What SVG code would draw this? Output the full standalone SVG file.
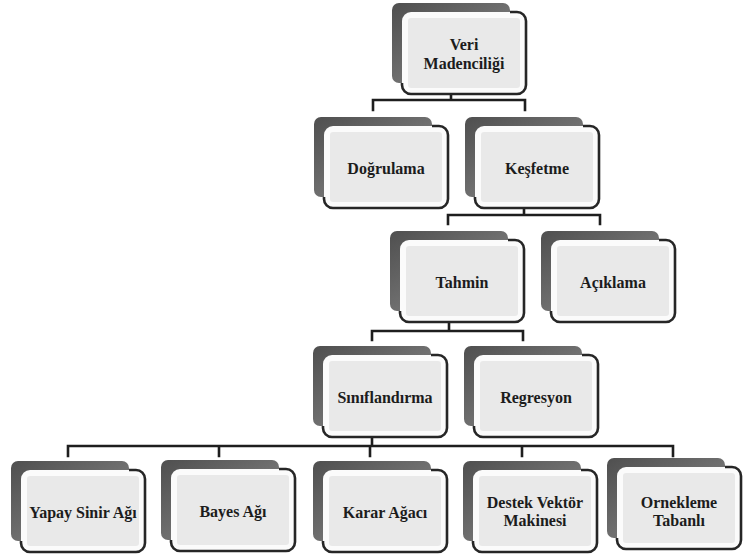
<svg xmlns="http://www.w3.org/2000/svg" xmlns:xlink="http://www.w3.org/1999/xlink" width="743" height="558" viewBox="0 0 743 558">
  <style>
    .lbl { font-family: "Liberation Serif", "Times New Roman", serif; font-weight: bold; font-size: 16px; fill: #1c1c1c; text-anchor: middle; dominant-baseline: central; }
    .wire { fill: none; stroke: #1e1e1e; stroke-width: 2.6; stroke-linecap: square; }
  </style>
  <defs>
    <linearGradient id="backFill" x1="0" y1="0" x2="1" y2="1">
      <stop offset="0" stop-color="#4f4f4f"/>
      <stop offset="0.5" stop-color="#6e6e6e"/>
      <stop offset="1" stop-color="#8e8e8e"/>
    </linearGradient>
    <!-- one box: dark offset card behind, light rounded card in front -->
    <g id="box">
      <rect x="0" y="0" width="118" height="80" rx="7" fill="url(#backFill)"/>
      <rect x="10" y="9" width="124" height="82" rx="9" fill="#fbfbfb"/>
      <rect x="16" y="15" width="112" height="70" rx="3" fill="#e9e9e9"/>
      <path d="M118,9 H125 A9,9 0 0 1 134,18 V82 A9,9 0 0 1 125,91 H19 A9,9 0 0 1 10,82 V80" fill="none" stroke="#262626" stroke-width="2.6"/>
    </g>
  </defs>
  <rect width="743" height="558" fill="#ffffff"/>

  <g id="connectors">
    <path class="wire" d="M451,93 V100 M373,100 H525 M373,100 V110 M525,100 V110"/>
    <path class="wire" d="M524,205 V215 M448,215 H600 M448,215 V224 M600,215 V224"/>
    <path class="wire" d="M449,322 V331 M372,331 H523 M372,331 V340 M523,331 V340"/>
    <path class="wire" d="M372,438 V446 M68,446 H673 M68,446 V456 M219,446 V456 M370,446 V456 M522,446 V456 M673,446 V456"/>
  </g>

  <g id="veri-madenciligi" transform="translate(392,3)">
    <use xlink:href="#box"/>
    <text class="lbl" x="72" y="41">Veri</text>
    <text class="lbl" x="72" y="60">Madenciliği</text>
  </g>

  <g id="dogrulama" transform="translate(314,117)">
    <use xlink:href="#box"/>
    <text class="lbl" x="72" y="51">Doğrulama</text>
  </g>
  <g id="kesfetme" transform="translate(465,117)">
    <use xlink:href="#box"/>
    <text class="lbl" x="72" y="51">Keşfetme</text>
  </g>

  <g id="tahmin" transform="translate(390,231)">
    <use xlink:href="#box"/>
    <text class="lbl" x="72" y="51">Tahmin</text>
  </g>
  <g id="aciklama" transform="translate(541,231)">
    <use xlink:href="#box"/>
    <text class="lbl" x="72" y="51">Açıklama</text>
  </g>

  <g id="siniflandirma" transform="translate(313,346)">
    <use xlink:href="#box"/>
    <text class="lbl" x="72" y="51">Sınıflandırma</text>
  </g>
  <g id="regresyon" transform="translate(464,346)">
    <use xlink:href="#box"/>
    <text class="lbl" x="72" y="51">Regresyon</text>
  </g>

  <g id="yapay-sinir-agi" transform="translate(11,461)">
    <use xlink:href="#box"/>
    <text class="lbl" x="72" y="51">Yapay Sinir Ağı</text>
  </g>
  <g id="bayes-agi" transform="translate(161,460)">
    <use xlink:href="#box"/>
    <text class="lbl" x="72" y="51">Bayes Ağı</text>
  </g>
  <g id="karar-agaci" transform="translate(313,461)">
    <use xlink:href="#box"/>
    <text class="lbl" x="72" y="51">Karar Ağacı</text>
  </g>
  <g id="destek-vektor-makinesi" transform="translate(463,461)">
    <use xlink:href="#box"/>
    <text class="lbl" x="72" y="41">Destek Vektör</text>
    <text class="lbl" x="72" y="59">Makinesi</text>
  </g>
  <g id="ornekleme-tabanli" transform="translate(607,458)">
    <use xlink:href="#box"/>
    <text class="lbl" x="72" y="44">Ornekleme</text>
    <text class="lbl" x="72" y="62">Tabanlı</text>
  </g>
</svg>
